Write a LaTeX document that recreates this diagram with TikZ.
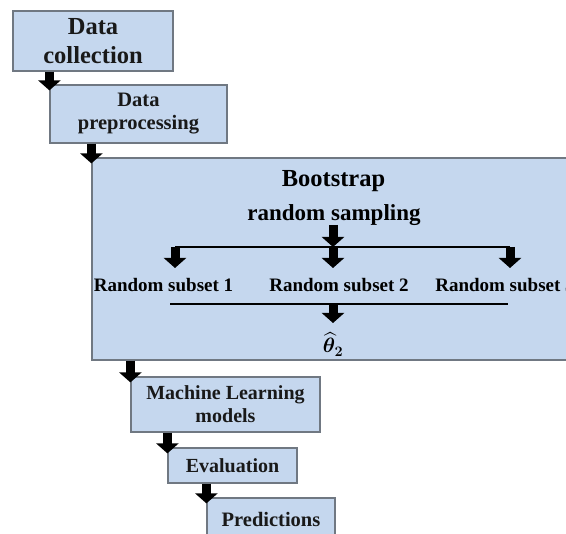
\documentclass[tikz,border=0pt]{standalone}
\usepackage{fontspec}
\setmainfont{Liberation Serif}
\usepackage{amsmath, amssymb}
\usepackage{tikz}
\usetikzlibrary{arrows.meta, positioning}
\definecolor{boxblue}{RGB}{197,215,238}
\definecolor{boxedge}{RGB}{112,120,130}
\newcommand{\thetahat}{{\boldmath$\widehat{\theta}_2$}}

\begin{document}
\begin{tikzpicture}[
	x=1pt, y=-1pt,
	procbox/.style={rectangle, draw=boxedge, line width=1.2pt, fill=boxblue,
		align=center, inner sep=0pt, text=black!90},
	flowarrow/.style={line width=9pt, -{Triangle[length=10pt, width=22pt]},
		shorten >=-6pt},
	splitarrow/.style={line width=9pt, -{Triangle[length=10pt, width=22pt]}},
	splitline/.style={line width=1.6pt},
	subsetlabel/.style={font=\bfseries\fontsize{19}{21}\selectfont, anchor=base,
		inner sep=0pt}
	]
	\useasboundingbox (0,0) rectangle (566,534);
	\clip (0,0) rectangle (566,534);
	
	% Main flow boxes
	\node[procbox, minimum width=160pt, minimum height=60pt,
		font=\bfseries\fontsize{24.5}{29}\selectfont] (dc) at (93,41) {Data\\collection};
	\node[procbox, minimum width=177pt, minimum height=58pt,
		font=\bfseries\fontsize{20.5}{23}\selectfont] (pp) at (138.5,114) {Data\\preprocessing};
	\node[procbox, minimum width=520pt, minimum height=202pt] (bs) at (352,259) {};
	\node[procbox, minimum width=189pt, minimum height=55pt,
		font=\bfseries\fontsize{20}{23}\selectfont] (ml) at (225.5,404.5) {Machine Learning\\models};
	\node[procbox, minimum width=129pt, minimum height=35pt,
		font=\bfseries\fontsize{20}{22}\selectfont] (ev) at (232.5,465.5) {Evaluation};
	\node[procbox, minimum width=128pt, minimum height=43pt,
		font=\bfseries\fontsize{20.5}{22}\selectfont] (pr) at (271,519.5) {Predictions};
	
	% Bootstrap block contents
	\node[font=\bfseries\fontsize{24.5}{28}\selectfont, anchor=base, inner sep=0pt]
		(bt) at (333.5,187) {Bootstrap};
	\node[font=\bfseries\fontsize{23}{26}\selectfont, anchor=base, inner sep=0pt]
		(rs) at (334,221) {random sampling};
	\coordinate (sp) at (333,247);
	\coordinate (l1) at (175,247);
	\coordinate (l3) at (510,247);
	\node[subsetlabel] (s1) at (163.5,292) {Random subset 1};
	\node[subsetlabel] (s2) at (339,292) {Random subset 2};
	\node[subsetlabel] (s3) at (505,292) {Random subset 3};
	\coordinate (mp) at (333,304);
	\coordinate (m1) at (170,304);
	\coordinate (m3) at (508,304);
	\node[font=\fontsize{22}{24}\selectfont, anchor=base, inner sep=0pt]
		(th) at (333,353) {\thetahat};
	
	% Split and merge lines
	\draw[splitarrow] (sp |- 0,225) -- (sp);
	\draw[splitline] (l1) -- (l3);
	\draw[splitarrow] (l1) -- (l1 |- 0,268);
	\draw[splitarrow] (sp) -- (sp |- 0,268);
	\draw[splitarrow] (l3) -- (l3 |- 0,268);
	\draw[splitline] (m1) -- (m3);
	\draw[splitarrow] (mp) -- (mp |- 0,323);
	
	% Arrows between steps
	\draw[flowarrow] (dc.south -| pp.west) -- (pp.north west);
	\draw[flowarrow] (pp.south -| bs.west) -- (bs.north west);
	\draw[flowarrow] (bs.south -| ml.west) -- (ml.north west);
	\draw[flowarrow] (ml.south -| ev.west) -- (ev.north west);
	\draw[flowarrow] (ev.south -| pr.west) -- (pr.north west);
	
\end{tikzpicture}
\end{document}
